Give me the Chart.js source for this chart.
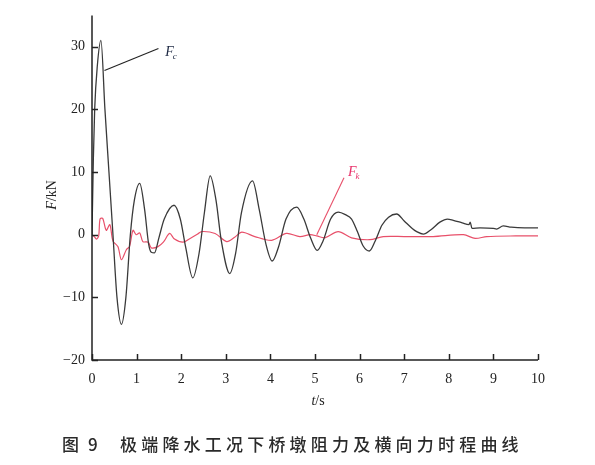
<!DOCTYPE html>
<html>
<head>
<meta charset="utf-8">
<script src="https://cdn.jsdelivr.net/npm/chart.js@4"></script>
<style>
  html, body { margin: 0; padding: 0; background: #fff; }
  #wrap { width: 595px; height: 465px; }
</style>
</head>
<body>
<div id="wrap"><canvas id="chart" width="595" height="465"></canvas></div>
<script>
// Fc: pier resistance (black), Fk: transverse force (red)
const fcTime = [0, 0.03, 0.06, 0.12, 0.2, 0.29, 0.38, 0.47, 0.56, 0.66, 0.76, 0.86, 0.95, 1.07, 1.18, 1.27, 1.33, 1.4, 1.5, 1.62,
  1.84, 1.98, 2.1, 2.26, 2.4, 2.52, 2.65, 2.78, 2.9, 3.09, 3.22, 3.35, 3.6, 3.75, 3.9, 4.04, 4.18, 4.35, 4.59, 4.75,
  4.9, 5.05, 5.18, 5.35, 5.52, 5.68, 5.82, 5.95, 6.08, 6.22, 6.35, 6.5, 6.65, 6.83, 7.0, 7.18, 7.28, 7.43, 7.6, 7.8,
  7.97, 8.1, 8.3, 8.45, 8.48, 8.52, 8.7, 9.0, 9.07, 9.22, 9.4, 9.7, 10.0];
const fcValue = [0, 12, 20, 27, 31, 20, 10, 0, -10, -14.3, -10, 0, 5.5, 8.2, 4, -1.5, -2.8, -2.9, -0.5, 2.5,
  4.7, 2.5, -2, -6.9, -3, 3.5, 9.4, 5.5, -1, -6.2, -3, 3.5, 8.6, 4, -1.5, -4.2, -2, 2.5, 4.4, 2.5,
  -0.5, -2.5, -1, 2.5, 3.6, 3.2, 2.5, 0.5, -1.8, -2.6, -1, 1.5, 2.8, 3.3, 2.2, 1, 0.5, 0.1, 0.8, 2,
  2.5, 2.3, 1.9, 1.6, 2.0, 1.0, 1.1, 1.0, 0.9, 1.4, 1.2, 1.1, 1.1];

const fkTime = [0, 0.05, 0.1, 0.15, 0.18, 0.24, 0.32, 0.4, 0.47, 0.58, 0.66, 0.77, 0.84, 0.92, 0.99, 1.07, 1.14, 1.26, 1.33, 1.48,
  1.6, 1.74, 1.85, 2.04, 2.2, 2.37, 2.46, 2.76, 3.02, 3.2, 3.36, 3.65, 4.03, 4.36, 4.66, 4.89, 5.04, 5.22, 5.52, 5.82,
  6.23, 6.53, 7.0, 7.65, 8.33, 8.59, 8.85, 9.5, 10.0];
const fkValue = [0, -0.3, -0.7, -0.2, 2.5, 2.6, 0.7, 1.6, -1.0, -1.9, -4.0, -2.4, -1.9, 0.7, 0, 0.3, -1.1, -1.2, -2.1, -1.9,
  -1.2, 0.2, -0.7, -1.2, -0.6, 0.1, 0.5, 0.2, -1.1, -0.4, 0.4, -0.3, -0.9, 0.2, -0.3, 0, -0.2, -0.5, 0.5, -0.5,
  -0.8, -0.3, -0.3, -0.3, 0, -0.6, -0.3, -0.2, -0.2];

// leader lines for the curve labels
const fcLeaderTime = [0.28, 1.49];
const fcLeaderValue = [26.2, 29.7];
const fkLeaderTime = [5.04, 5.65];
const fkLeaderValue = [0, 9.1];

const xTicks = [0, 1, 2, 3, 4, 5, 6, 7, 8, 9, 10];
const yTicks = [-20, -10, 0, 10, 20, 30];

const toPoints = (t, v) => t.map((x, i) => ({ x: x, y: v[i] }));

const serif = "'Liberation Serif', 'DejaVu Serif', serif";
const black = '#3a3a3a';
const red = '#e8506a';

const decor = {
  id: 'decor',
  afterDraw(chart) {
    const ctx = chart.ctx;
    const xs = chart.scales.x, ys = chart.scales.y;
    const area = chart.chartArea;
    ctx.save();
    // axes
    ctx.strokeStyle = '#222';
    ctx.lineWidth = 1.5;
    ctx.beginPath();
    ctx.moveTo(area.left, area.top);
    ctx.lineTo(area.left, area.bottom);
    ctx.lineTo(area.right, area.bottom);
    ctx.stroke();
    // inward ticks
    yTicks.forEach(v => {
      const py = Math.round(ys.getPixelForValue(v)) + 0.5;
      ctx.beginPath();
      ctx.moveTo(area.left, py);
      ctx.lineTo(area.left + 6, py);
      ctx.stroke();
    });
    xTicks.forEach(v => {
      const px = Math.round(xs.getPixelForValue(v)) + 0.5;
      ctx.beginPath();
      ctx.moveTo(px, area.bottom);
      ctx.lineTo(px, area.bottom - 6);
      ctx.stroke();
    });
    // curve labels
    function subLabel(x, y, sub, color) {
      ctx.fillStyle = color;
      ctx.textBaseline = 'alphabetic';
      ctx.textAlign = 'left';
      ctx.font = "italic 14px " + serif;
      ctx.fillText('F', x, y);
      const w = ctx.measureText('F').width;
      ctx.font = "italic 9px " + serif;
      ctx.fillText(sub, x + w - 1, y + 3);
    }
    subLabel(xs.getPixelForValue(1.64), ys.getPixelForValue(28.5), 'c', '#1f2a44');
    subLabel(xs.getPixelForValue(5.74), ys.getPixelForValue(9.3), 'k', '#e8336b');
    // y title
    ctx.fillStyle = '#222';
    ctx.save();
    ctx.translate(52, 195);
    ctx.rotate(-Math.PI / 2);
    ctx.textAlign = 'left';
    ctx.textBaseline = 'middle';
    ctx.font = "italic 14px " + serif;
    const fw = ctx.measureText('F').width;
    ctx.font = "14px " + serif;
    const rw = ctx.measureText('/kN').width;
    ctx.font = "italic 14px " + serif;
    ctx.fillText('F', -(fw + rw) / 2, 0);
    ctx.font = "14px " + serif;
    ctx.fillText('/kN', -(fw + rw) / 2 + fw, 0);
    ctx.restore();
    // x title
    ctx.textBaseline = 'middle';
    ctx.textAlign = 'left';
    ctx.font = "italic 14px " + serif;
    const tw = ctx.measureText('t').width;
    ctx.font = "14px " + serif;
    const sw = ctx.measureText('/s').width;
    const x0 = 318 - (tw + sw) / 2;
    ctx.font = "italic 14px " + serif;
    ctx.fillText('t', x0, 401);
    ctx.font = "14px " + serif;
    ctx.fillText('/s', x0 + tw, 401);
    // caption
    ctx.fillStyle = '#2a2a2a';
    ctx.font = "500 17px 'Noto Sans CJK SC', sans-serif";
    ctx.textBaseline = 'middle';
    ctx.textAlign = 'left';
    ctx.fillText('图', 62, 445);
    ctx.fillText('9', 88, 445);
    const caption = '极端降水工况下桥墩阻力及横向力时程曲线';
    [...caption].forEach((ch, i) => {
      ctx.fillText(ch, 120 + i * 21.2, 445);
    });
    ctx.restore();
  }
};

new Chart(document.getElementById('chart'), {
  type: 'line',
  data: {
    datasets: [
      {
        label: 'Fc',
        data: toPoints(fcTime, fcValue),
        borderColor: black,
        borderWidth: 1.3,
        pointRadius: 0,
        cubicInterpolationMode: 'monotone',
        fill: false
      },
      {
        label: 'Fk',
        data: toPoints(fkTime, fkValue),
        borderColor: red,
        borderWidth: 1.2,
        pointRadius: 0,
        tension: 0.3,
        fill: false
      },
      {
        label: 'Fc leader',
        data: toPoints(fcLeaderTime, fcLeaderValue),
        borderColor: '#222',
        borderWidth: 1.1,
        pointRadius: 0,
        tension: 0
      },
      {
        label: 'Fk leader',
        data: toPoints(fkLeaderTime, fkLeaderValue),
        borderColor: red,
        borderWidth: 1.1,
        pointRadius: 0,
        tension: 0
      }
    ]
  },
  options: {
    responsive: false,
    animation: false,
    layout: { padding: { top: 10, right: 57, left: 0, bottom: 0 } },
    plugins: {
      legend: { display: false },
      tooltip: { enabled: false }
    },
    scales: {
      x: {
        type: 'linear',
        min: 0,
        max: 10,
        border: { display: false },
        grid: { display: false, drawTicks: false },
        afterBuildTicks: s => { s.ticks = xTicks.map(v => ({ value: v })); },
        afterFit: s => { s.height = 105; },
        ticks: {
          padding: 11,
          color: '#222',
          font: { family: serif, size: 14 },
          maxRotation: 0
        }
      },
      y: {
        min: -20,
        max: 35,
        border: { display: false },
        grid: { display: false, drawTicks: false },
        afterBuildTicks: s => { s.ticks = yTicks.map(v => ({ value: v })); },
        afterFit: s => { s.width = 92; },
        ticks: {
          padding: 7,
          color: '#222',
          font: { family: serif, size: 14 },
          callback: v => (v < 0 ? '\u2212' + Math.abs(v) : String(v))
        }
      }
    }
  },
  plugins: [decor]
});
</script>
</body>
</html>
